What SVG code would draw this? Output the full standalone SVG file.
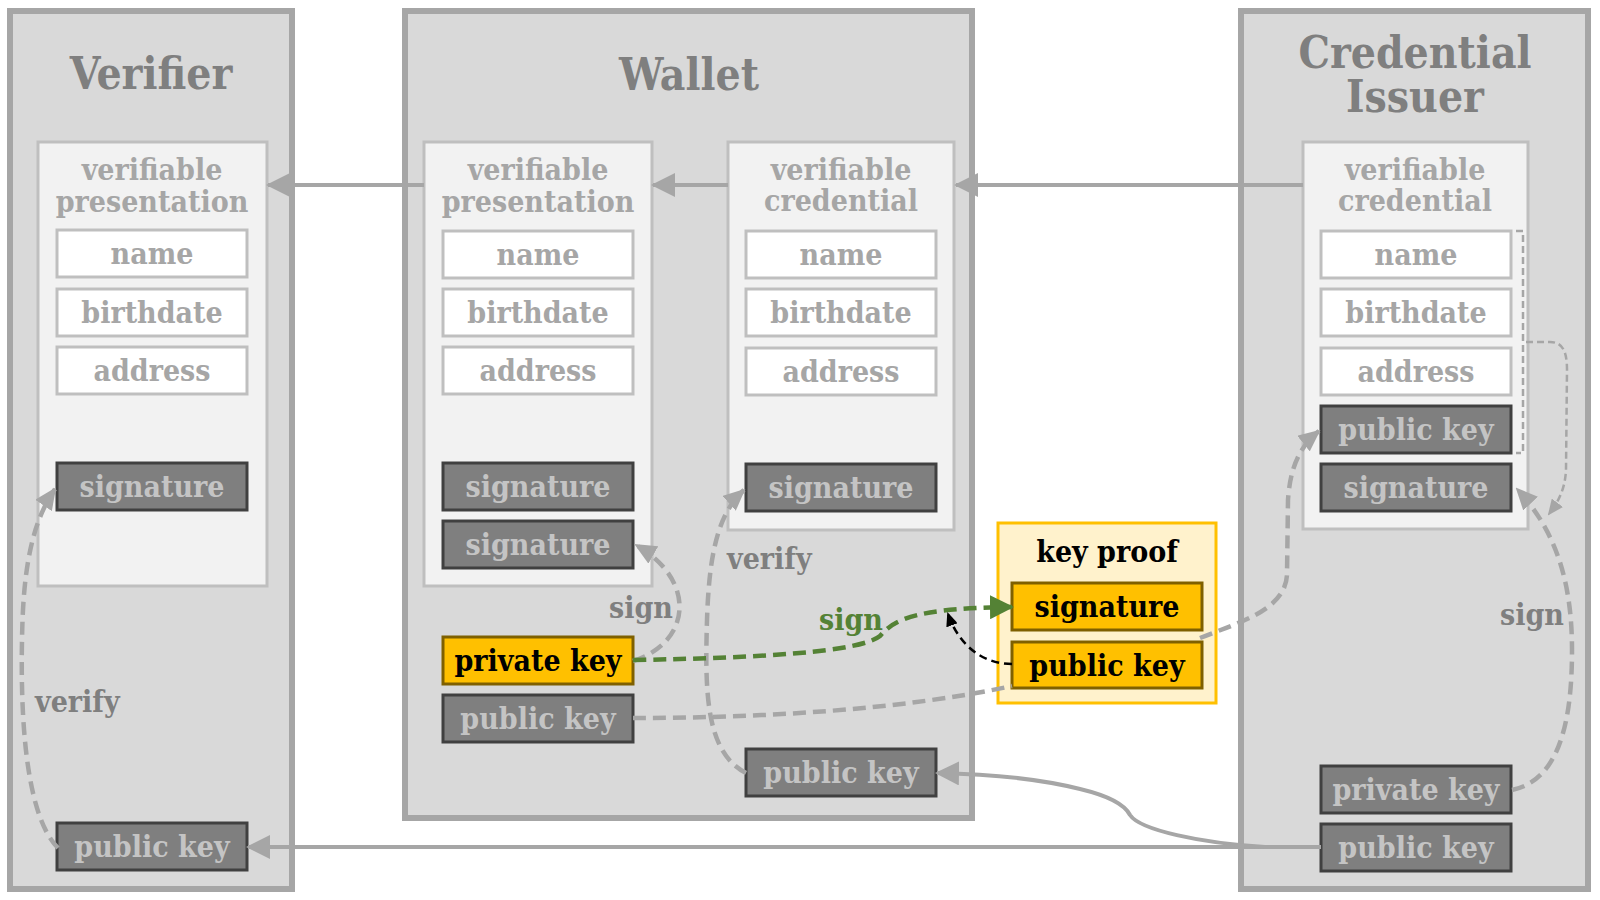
<svg xmlns="http://www.w3.org/2000/svg" width="1600" height="900" viewBox="0 0 1600 900">
<defs>
<style>
text{font-family:"DejaVu Serif Condensed","DejaVu Serif",serif;font-stretch:condensed;font-weight:bold;text-anchor:middle}
.outer{fill:#d9d9d9;stroke:#a6a6a6;stroke-width:6}
.inner{fill:#f2f2f2;stroke:#bfbfbf;stroke-width:3}
.field{fill:#ffffff;stroke:#bfbfbf;stroke-width:3}
.dark{fill:#7f7f7f;stroke:#404040;stroke-width:3}
.gold{fill:#ffc000;stroke:#7f6000;stroke-width:3}
.proof{fill:#fff2cc;stroke:#ffc000;stroke-width:3}
.title{font-size:44px;fill:#7f7f7f}
.sub{font-size:30px;fill:#a6a6a6}
.ft{font-size:30px;fill:#a6a6a6}
.dt{font-size:30px;fill:#c4c4c4}
.gt{font-size:30px;fill:#000000}
.lbl{font-size:30px;fill:#7f7f7f;text-anchor:start}
.glbl{font-size:30px;fill:#548235;text-anchor:start}
.solid{fill:none;stroke:#a6a6a6;stroke-width:4}
.dash{fill:none;stroke:#a6a6a6;stroke-width:4.5;stroke-dasharray:13 7}
.gdash{fill:none;stroke:#548235;stroke-width:4.5;stroke-dasharray:13 7}
.bdash{fill:none;stroke:#000000;stroke-width:2.5;stroke-dasharray:8 5}
.thin{fill:none;stroke:#a6a6a6;stroke-width:2.5;stroke-dasharray:7 4}
</style>
<marker id="aS" markerUnits="userSpaceOnUse" markerWidth="24" markerHeight="24" refX="22" refY="12" orient="auto"><path d="M0,0 L24,12 L0,24 z" fill="#a6a6a6"/></marker>
<marker id="aD" markerUnits="userSpaceOnUse" markerWidth="22" markerHeight="20" refX="20" refY="10" orient="auto"><path d="M0,0 L22,10 L0,20 z" fill="#a6a6a6"/></marker>
<marker id="aG" markerUnits="userSpaceOnUse" markerWidth="24" markerHeight="24" refX="22" refY="12" orient="auto"><path d="M0,0 L24,12 L0,24 z" fill="#548235"/></marker>
<marker id="aB" markerUnits="userSpaceOnUse" markerWidth="14" markerHeight="12" refX="12" refY="6" orient="auto"><path d="M0,0 L14,6 L0,12 z" fill="#000000"/></marker>
<marker id="aT" markerUnits="userSpaceOnUse" markerWidth="16" markerHeight="14" refX="14" refY="7" orient="auto"><path d="M0,0 L16,7 L0,14 z" fill="#a6a6a6"/></marker>
</defs>

<g id="verifier">
<rect class="outer" x="10" y="11" width="282" height="878"/>
<text class="title" x="151" y="89">Verifier</text>
</g>
<g id="wallet">
<rect class="outer" x="405" y="11" width="567" height="807"/>
<text class="title" x="689" y="90">Wallet</text>
</g>
<g id="issuer">
<rect class="outer" x="1241" y="11" width="347" height="878"/>
<text class="title" x="1415" y="68">Credential</text>
<text class="title" x="1415" y="112">Issuer</text>
</g>

<g id="verifier-vp">
<rect class="inner" x="38" y="142" width="229" height="444"/>
<text class="sub" x="152" y="180">verifiable</text>
<text class="sub" x="152" y="212">presentation</text>
<rect class="field" x="57" y="230" width="190" height="47"/><text class="ft" x="152" y="264">name</text>
<rect class="field" x="57" y="289" width="190" height="47"/><text class="ft" x="152" y="323">birthdate</text>
<rect class="field" x="57" y="347" width="190" height="47"/><text class="ft" x="152" y="381">address</text>
<rect class="dark" x="57" y="463" width="190" height="47"/><text class="dt" x="152" y="497">signature</text>
</g>
<g id="verifier-pubkey">
<rect class="dark" x="57" y="823" width="190" height="47"/><text class="dt" x="152" y="857">public key</text>
</g>

<g id="wallet-vp">
<rect class="inner" x="424" y="142" width="228" height="444"/>
<text class="sub" x="538" y="180">verifiable</text>
<text class="sub" x="538" y="212">presentation</text>
<rect class="field" x="443" y="231" width="190" height="47"/><text class="ft" x="538" y="265">name</text>
<rect class="field" x="443" y="289" width="190" height="47"/><text class="ft" x="538" y="323">birthdate</text>
<rect class="field" x="443" y="347" width="190" height="47"/><text class="ft" x="538" y="381">address</text>
<rect class="dark" x="443" y="463" width="190" height="47"/><text class="dt" x="538" y="497">signature</text>
<rect class="dark" x="443" y="521" width="190" height="47"/><text class="dt" x="538" y="555">signature</text>
</g>
<g id="wallet-privkey">
<rect class="gold" x="443" y="637" width="190" height="47"/><text class="gt" x="538" y="671">private key</text>
</g>
<g id="wallet-pubkey">
<rect class="dark" x="443" y="695" width="190" height="47"/><text class="dt" x="538" y="729">public key</text>
</g>

<g id="wallet-vc">
<rect class="inner" x="728" y="142" width="226" height="388"/>
<text class="sub" x="841" y="180">verifiable</text>
<text class="sub" x="841" y="211">credential</text>
<rect class="field" x="746" y="231" width="190" height="47"/><text class="ft" x="841" y="265">name</text>
<rect class="field" x="746" y="289" width="190" height="47"/><text class="ft" x="841" y="323">birthdate</text>
<rect class="field" x="746" y="348" width="190" height="47"/><text class="ft" x="841" y="382">address</text>
<rect class="dark" x="746" y="464" width="190" height="47"/><text class="dt" x="841" y="498">signature</text>
</g>
<g id="wallet-issuer-pubkey">
<rect class="dark" x="746" y="749" width="190" height="47"/><text class="dt" x="841" y="783">public key</text>
</g>

<g id="key-proof">
<rect class="proof" x="998" y="523" width="218" height="180"/>
<text class="gt" x="1107" y="562">key proof</text>
<rect class="gold" x="1012" y="583" width="190" height="47"/><text class="gt" x="1107" y="617">signature</text>
<rect class="gold" x="1012" y="642" width="190" height="46"/><text class="gt" x="1107" y="676">public key</text>
</g>

<g id="issuer-vc">
<rect class="inner" x="1303" y="142" width="225" height="387"/>
<text class="sub" x="1415" y="180">verifiable</text>
<text class="sub" x="1415" y="211">credential</text>
<rect class="field" x="1321" y="231" width="190" height="47"/><text class="ft" x="1416" y="265">name</text>
<rect class="field" x="1321" y="289" width="190" height="47"/><text class="ft" x="1416" y="323">birthdate</text>
<rect class="field" x="1321" y="348" width="190" height="47"/><text class="ft" x="1416" y="382">address</text>
<rect class="dark" x="1321" y="406" width="190" height="47"/><text class="dt" x="1416" y="440">public key</text>
<rect class="dark" x="1321" y="464" width="190" height="47"/><text class="dt" x="1416" y="498">signature</text>
<path class="thin" d="M1516,231 L1523,231 L1523,453 L1516,453"/>
</g>
<g id="issuer-privkey">
<rect class="dark" x="1321" y="766" width="190" height="47"/><text class="dt" x="1416" y="800">private key</text>
</g>
<g id="issuer-pubkey">
<rect class="dark" x="1321" y="824" width="190" height="47"/><text class="dt" x="1416" y="858">public key</text>
</g>

<g id="connectors">
<path class="solid" d="M1303,185 L956,185" marker-end="url(#aS)"/>
<path class="solid" d="M728,185 L653,185" marker-end="url(#aS)"/>
<path class="solid" d="M424,185 L268,185" marker-end="url(#aS)"/>
<path class="solid" d="M1321,847 L248,847" marker-end="url(#aS)"/>
<path class="solid" d="M1321,847 L1265,847 C1200,843 1140,830 1130,815 C1124,803 1105,795 1080,789 C1040,779 990,774 937,773" marker-end="url(#aS)"/>
<path class="dash" d="M58,848 C30,820 20,740 22,640 C23,575 30,525 55,489" marker-end="url(#aD)"/>
<text class="lbl" x="35" y="712">verify</text>
<path class="dash" d="M633,661 C692,642 697,580 636,545" marker-end="url(#aD)"/>
<text class="lbl" x="609" y="618">sign</text>
<path class="dash" d="M746,773 C705,752 705,690 707,620 C709,560 716,515 744,490" marker-end="url(#aD)"/>
<text class="lbl" x="727" y="569">verify</text>
<path class="dash" d="M633,718 C760,718 900,710 1012,686"/>
<path class="dash" d="M1200,638 C1240,622 1285,610 1287,575 L1288,500 C1290,470 1298,448 1319,431" marker-end="url(#aD)"/>
<path class="dash" d="M1512,790 C1560,780 1572,720 1572,650 C1572,580 1555,530 1517,489" marker-end="url(#aD)"/>
<text class="lbl" x="1500" y="625">sign</text>
<path class="thin" d="M1526,342 L1550,342 C1563,342 1567,352 1567,370 L1566,470 C1565,490 1558,502 1549,514" marker-end="url(#aT)"/>
<path class="gdash" d="M633,660 C760,658 860,652 880,636 C895,618 920,608 1012,607" marker-end="url(#aG)"/>
<text class="glbl" x="819" y="630">sign</text>
<path class="bdash" d="M1012,664 C985,664 960,648 948,614" marker-end="url(#aB)"/>
</g>
</svg>
